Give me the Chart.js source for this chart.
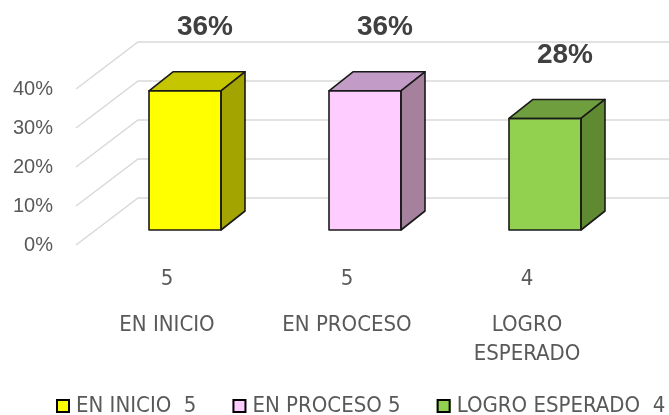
<!DOCTYPE html>
<html>
<head>
<meta charset="utf-8">
<script src="https://cdn.jsdelivr.net/npm/chart.js@4.4.1/dist/chart.umd.min.js"></script>
<style>
  html, body { margin: 0; padding: 0; background: #fff; }
  #wrap { width: 669px; height: 415px; position: relative; }
</style>
</head>
<body>
<div id="wrap"><canvas id="nivelesChart"></canvas></div>
<script>
// Data
const categories = ['EN INICIO', 'EN PROCESO', 'LOGRO ESPERADO'];
const counts = [5, 5, 4];
const percentages = [35.7, 35.7, 28.6];
const percentLabels = ['36%', '36%', '28%'];
const legendLabels = ['EN INICIO  5', 'EN PROCESO 5', 'LOGRO ESPERADO  4'];
const yTicks = [0, 10, 20, 30, 40];

// Face colours of the 3D columns
const frontColors = ['#FFFF00', '#FFCCFF', '#92D050'];
const topColors = ['#C6C600', '#C39BC7', '#6F9E3E'];
const sideColors = ['#A4A400', '#A5819E', '#5F8A32'];

const NARROW = "'Liberation Sans Narrow', 'Arial Narrow', 'DejaVu Sans Condensed', sans-serif";
const TEXT_GRAY = '#595959';

// 3D projection offsets (pixels)
const DEPTH_X = 24, DEPTH_Y = -19;

// Draws the back wall and side wall grid lines of the 3D chart
const wallGrid = {
  id: 'wallGrid',
  beforeDatasetsDraw(chart) {
    const { ctx, chartArea, scales } = chart;
    const y = scales.y;
    ctx.save();
    ctx.strokeStyle = '#D9D9D9';
    ctx.lineWidth = 1.5;
    yTicks.forEach(v => {
      const p = y.getPixelForValue(v);
      const frontX = chartArea.left - 19, frontY = p + 15;
      const backX = chartArea.left + 43, backY = p - 32;
      ctx.beginPath();
      ctx.moveTo(frontX, frontY);
      ctx.lineTo(backX, backY);
      ctx.lineTo(chart.width, backY);
      ctx.stroke();
    });
    ctx.restore();
  }
};

// Adds the top and side faces to every bar and writes the percentage labels
const columns3d = {
  id: 'columns3d',
  afterDatasetsDraw(chart) {
    const { ctx } = chart;
    const meta = chart.getDatasetMeta(0);
    ctx.save();
    meta.data.forEach((bar, i) => {
      const { x, y, base, width } = bar.getProps(['x', 'y', 'base', 'width'], true);
      const l = x - width / 2, r = x + width / 2;
      ctx.lineJoin = 'round';
      ctx.strokeStyle = '#1a1a1a';
      ctx.lineWidth = 1.6;
      // top face
      ctx.beginPath();
      ctx.moveTo(l, y);
      ctx.lineTo(l + DEPTH_X, y + DEPTH_Y);
      ctx.lineTo(r + DEPTH_X, y + DEPTH_Y);
      ctx.lineTo(r, y);
      ctx.closePath();
      ctx.fillStyle = topColors[i];
      ctx.fill();
      ctx.stroke();
      // side face
      ctx.beginPath();
      ctx.moveTo(r, y);
      ctx.lineTo(r + DEPTH_X, y + DEPTH_Y);
      ctx.lineTo(r + DEPTH_X, base + DEPTH_Y);
      ctx.lineTo(r, base);
      ctx.closePath();
      ctx.fillStyle = sideColors[i];
      ctx.fill();
      ctx.stroke();
      // front outline
      ctx.strokeRect(l, y, width, base - y);

      // percentage label
      ctx.fillStyle = '#404040';
      ctx.font = "bold 28px 'Liberation Sans', Arial, sans-serif";
      ctx.textAlign = 'center';
      ctx.textBaseline = 'middle';
      ctx.fillText(percentLabels[i], x + 20, y - 63);
    });
    ctx.restore();
  }
};

// Excel-like legend row at the bottom (tight box-to-text gap)
const bottomLegend = {
  id: 'bottomLegend',
  afterDraw(chart) {
    const { ctx } = chart;
    const rowY = 406;
    let x = 56;
    ctx.save();
    ctx.font = '22px ' + NARROW;
    ctx.textBaseline = 'middle';
    ctx.textAlign = 'left';
    legendLabels.forEach((text, i) => {
      ctx.fillStyle = frontColors[i];
      ctx.fillRect(x, rowY - 7, 14, 14);
      ctx.strokeStyle = '#000';
      ctx.lineWidth = 2;
      ctx.strokeRect(x + 1, rowY - 6, 12, 12);
      ctx.fillStyle = TEXT_GRAY;
      ctx.fillText(text, x + 20, rowY);
      x += 20 + ctx.measureText(text).width + 36;
    });
    ctx.restore();
  }
};

const ctx = document.getElementById('nivelesChart');
new Chart(ctx, {
  type: 'bar',
  data: {
    labels: counts.map(String),
    datasets: [{
      label: 'Nivel de logro',
      data: percentages,
      backgroundColor: frontColors,
      borderWidth: 0,
      barPercentage: 0.4,
      categoryPercentage: 1
    }]
  },
  options: {
    responsive: true,
    maintainAspectRatio: false,
    animation: false,
    layout: {
      padding: { left: 13, top: 74, right: 34, bottom: 0 }
    },
    plugins: {
      tooltip: { enabled: false },
      legend: { display: false }
    },
    scales: {
      y: {
        min: 0,
        max: 40,
        ticks: {
          stepSize: 10,
          padding: 42,
          labelOffset: 15,
          color: TEXT_GRAY,
          font: { family: "'Liberation Sans', Arial, sans-serif", size: 20 },
          callback: v => v + '%'
        },
        grid: { display: false, drawTicks: false },
        border: { display: false },
        afterFit(scale) { scale.width = 82; }
      },
      x: {
        position: 'bottom',
        weight: 0,
        ticks: {
          padding: 36,
          labelOffset: -18,
          color: TEXT_GRAY,
          font: { family: NARROW, size: 22 }
        },
        grid: { display: false, drawTicks: false },
        border: { display: false },
        afterFit(scale) { scale.height = 60; }
      },
      x2: {
        type: 'category',
        labels: categories,
        position: 'bottom',
        weight: 1,
        offset: true,
        ticks: {
          padding: 21,
          labelOffset: -18,
          maxRotation: 0,
          autoSkip: false,
          color: TEXT_GRAY,
          font: { family: NARROW, size: 22, lineHeight: '29px' },
          callback(value) {
            const name = categories[value];
            return name.length > 12 ? name.split(' ') : name;
          }
        },
        grid: { display: false, drawTicks: false },
        border: { display: false },
        afterFit(scale) { scale.height = 125; }
      }
    }
  },
  plugins: [wallGrid, columns3d, bottomLegend]
});
</script>
</body>
</html>
